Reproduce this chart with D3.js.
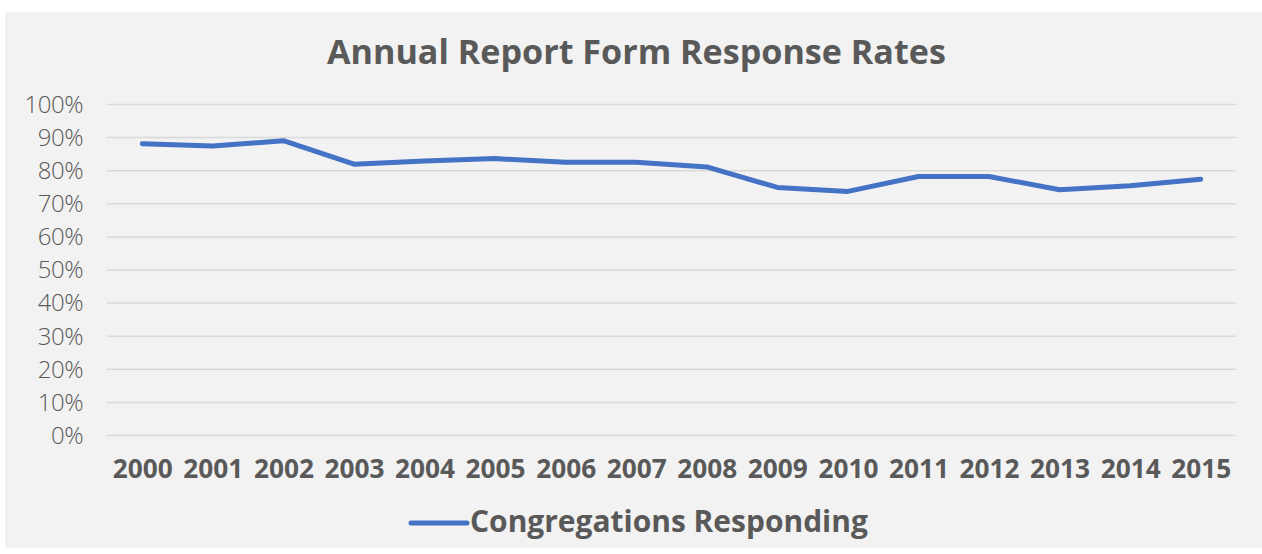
<!DOCTYPE html>
<html>
<head>
<meta charset="utf-8">
<script src="https://cdn.jsdelivr.net/npm/d3@7"></script>
<style>
  html, body { margin: 0; padding: 0; background: #ffffff; }
  svg { display: block; }
</style>
</head>
<body>
<svg id="chart" width="1262" height="554"></svg>
<script>
const years = ["2000","2001","2002","2003","2004","2005","2006","2007","2008","2009","2010","2011","2012","2013","2014","2015"];
const responding = [88.0, 87.3, 88.9, 81.8, 82.8, 83.5, 82.4, 82.4, 81.0, 74.8, 73.6, 78.1, 78.1, 74.1, 75.3, 77.3];
const yTicks = [0, 10, 20, 30, 40, 50, 60, 70, 80, 90, 100];
const titleText = "Annual Report Form Response Rates";
const seriesName = "Congregations Responding";

const svg = d3.select("#chart");
const W = 1262, H = 554;
const textColor = "#595959";
const lineColor = "#4472c4";
const font = "'Open Sans', 'Noto Sans', sans-serif";

// panel background
svg.append("rect").attr("x", 5).attr("y", 12).attr("width", W - 5).attr("height", 536)
  .attr("fill", "#f2f2f2");

const plot = { left: 107, right: 1236, top: 104, bottom: 435 };

const x = d3.scalePoint().domain(years).range([plot.left, plot.right]).padding(0.5);
const y = d3.scaleLinear().domain([0, 100]).range([plot.bottom, plot.top]);

// fit helper: adjust font size so text width matches target
function fit(sel, target) {
  const node = sel.node();
  const fs = parseFloat(sel.attr("font-size"));
  const w = node.getComputedTextLength();
  if (w > 0) sel.attr("font-size", (fs * target / w).toFixed(2));
  return sel;
}

// gridlines
const yAxis = d3.axisLeft(y).tickValues(yTicks).tickSize(-(plot.right - plot.left)).tickFormat(d => d + "%");
const gy = svg.append("g").attr("transform", `translate(${plot.left},0)`).call(yAxis);
gy.select(".domain").remove();
gy.selectAll(".tick line").attr("stroke", "#d9d9d9").attr("stroke-width", 1.5);
gy.selectAll(".tick text")
  .attr("x", -24)
  .attr("dy", "0.35em")
  .attr("fill", textColor)
  .attr("font-family", font)
  .attr("font-weight", 300)
  .attr("font-size", 20)
  .style("letter-spacing", "-0.5px");
// scale y label font to match "100%" width ~58
{
  const t = gy.selectAll(".tick text").filter(d => d === 100);
  const w = t.node().getComputedTextLength();
  const fs = 20 * 58 / w;
  gy.selectAll(".tick text").attr("font-size", fs.toFixed(2));
}

// x axis labels
const xAxis = d3.axisBottom(x).tickSize(0).tickPadding(0);
const gx = svg.append("g").attr("transform", `translate(0,${plot.bottom})`).call(xAxis);
gx.select(".domain").remove();
gx.selectAll(".tick text")
  .attr("y", 43)
  .attr("dy", 0)
  .attr("fill", textColor)
  .attr("font-family", font)
  .attr("font-weight", 700)
  .attr("font-size", 22);
{
  const t = gx.selectAll(".tick text").filter(d => d === "2000");
  const w = t.node().getComputedTextLength();
  const fs = 22 * 60 / w;
  gx.selectAll(".tick text").attr("font-size", fs.toFixed(2));
}

// line
const line = d3.line().x((d, i) => x(years[i])).y(d => y(d));
svg.append("path").datum(responding)
  .attr("d", line)
  .attr("fill", "none")
  .attr("stroke", lineColor)
  .attr("stroke-width", 5)
  .attr("stroke-linejoin", "round")
  .attr("stroke-linecap", "round");

// title
const title = svg.append("text")
  .attr("x", 327).attr("y", 64)
  .attr("fill", textColor)
  .attr("font-family", font)
  .attr("font-weight", 700)
  .attr("font-size", 30)
  .text(titleText);
fit(title, 619);

// legend
svg.append("line")
  .attr("x1", 411).attr("x2", 467).attr("y1", 523).attr("y2", 523)
  .attr("stroke", lineColor).attr("stroke-width", 5).attr("stroke-linecap", "round");
const leg = svg.append("text")
  .attr("x", 470).attr("y", 532)
  .attr("fill", textColor)
  .attr("font-family", font)
  .attr("font-weight", 700)
  .attr("font-size", 26)
  .text(seriesName);
fit(leg, 398);
</script>
</body>
</html>
